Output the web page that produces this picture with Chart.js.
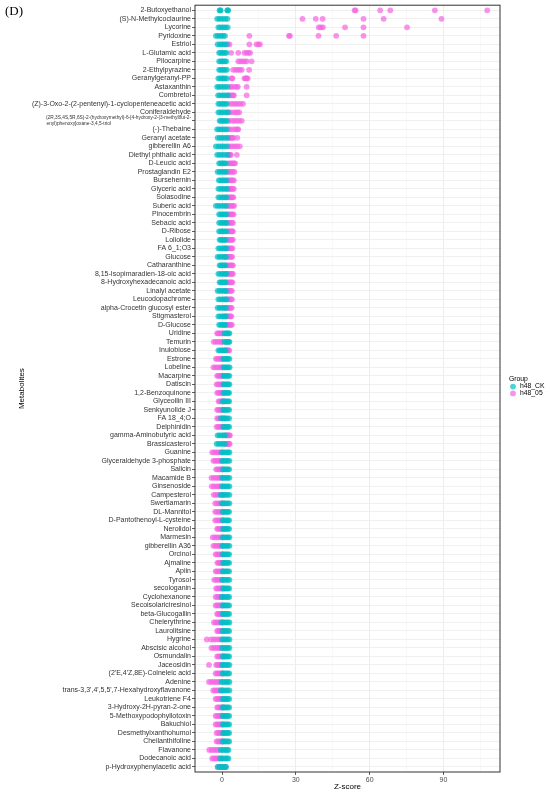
<!DOCTYPE html>
<html>
<head>
<meta charset="utf-8">
<script src="https://cdn.jsdelivr.net/npm/chart.js@4.4.0/dist/chart.umd.min.js"></script>
<style>
  body { margin: 0; background: #fff; }
</style>
</head>
<body>
<canvas id="myChart" width="550" height="794" style="width:550px;height:794px"></canvas>
<script>
var metabolites = [
  "2-Butoxyethanol", "(S)-N-Methylcoclaurine", "Lycorine", "Pyridoxine", "Estriol",
  "L-Glutamic acid", "Pilocarpine", "2-Ethylpyrazine", "Geranylgeranyl-PP", "Astaxanthin",
  "Combretol", "(Z)-3-Oxo-2-(2-pentenyl)-1-cyclopenteneacetic acid", "Coniferaldehyde",
  "(2R,3S,4S,5R,6S)-2-(hydroxymethyl)-6-[4-hydroxy-2-(3-methylbut-2-enyl)phenoxy]oxane-3,4,5-triol",
  "(-)-Thebaine", "Geranyl acetate", "gibberellin A6", "Diethyl phthalic acid", "D-Leucic acid",
  "Prostaglandin E2", "Bursehernin", "Glyceric acid", "Solasodine", "Suberic acid",
  "Pinocembrin", "Sebacic acid", "D-Ribose", "Loliolide", "FA 6_1;O3", "Glucose",
  "Catharanthine", "8,15-Isopimaradien-18-oic acid", "8-Hydroxyhexadecanoic acid",
  "Linalyl acetate", "Leucodopachrome", "alpha-Crocetin glucosyl ester", "Stigmasterol",
  "D-Glucose", "Uridine", "Temurin", "Inulobiose", "Estrone", "Lobeline", "Macarpine",
  "Datiscin", "1,2-Benzoquinone", "Glyceollin III", "Senkyunolide J", "FA 18_4;O",
  "Delphinidin", "gamma-Aminobutyric acid", "Brassicasterol", "Guanine",
  "Glyceraldehyde 3-phosphate", "Salicin", "Macamide B", "Ginsenoside", "Campesterol",
  "Swertiamarin", "DL-Mannitol", "D-Pantothenoyl-L-cysteine", "Nerolidol", "Marmesin",
  "gibberellin A36", "Orcinol", "Ajmaline", "Apiin", "Tyrosol", "secologanin",
  "Cyclohexanone", "Secoisolariciresinol", "beta-Glucogallin", "Chelerythrine",
  "Laurolitsine", "Hygrine", "Abscisic alcohol", "Osmundalin", "Jaceosidin",
  "(2'E,4'Z,8E)-Colneleic acid", "Adenine", "trans-3,3',4',5,5',7-Hexahydroxyflavanone",
  "Leukotriene F4", "3-Hydroxy-2H-pyran-2-one", "5-Methoxypodophyllotoxin", "Bakuchiol",
  "Desmethylxanthohumol", "Cheilanthifoline", "Flavanone", "Dodecanoic acid",
  "p-Hydroxyphenylacetic acid"
];

// six replicates per group, one row per metabolite
var ckScores = [
  [-1.0,-0.8,-0.6,2.1,2.3,2.5], [-2.0,-1.2,-0.5,0.5,1.4,2.2], [-1.5,-0.8,0.0,0.8,1.5,2.3],
  [-2.5,-1.8,-1.0,-0.3,0.5,1.2], [-1.8,-1.0,-0.3,0.4,1.1,1.7], [-1.2,-0.6,0.0,0.6,1.2,1.8],
  [-1.2,-0.5,0.0,0.6,1.2,1.7], [-1.2,-0.6,0.0,0.7,1.3,2.0], [-1.5,-0.8,0.0,0.6,1.2,2.0],
  [-2.0,-1.3,-0.5,0.5,1.3,2.2], [-1.6,-0.9,0.0,0.8,1.5,2.4], [-1.5,-0.8,0.0,0.7,1.4,2.0],
  [-1.5,-0.8,0.0,0.8,1.6,2.4], [-1.0,-0.5,0.2,0.8,1.4,2.0], [-2.0,-1.3,-0.5,0.3,1.0,1.8],
  [-1.8,-1.0,-0.2,0.6,1.4,2.2], [-2.5,-1.5,-0.7,0.2,1.0,2.0], [-2.0,-1.2,-0.4,0.4,1.2,2.3],
  [-1.2,-0.6,0.0,0.5,1.0,1.6], [-1.8,-1.1,-0.4,0.3,1.0,1.6], [-1.3,-0.7,0.0,0.6,1.2,1.8],
  [-1.5,-0.8,0.0,0.7,1.4,2.0], [-1.5,-0.8,0.0,0.6,1.2,1.8], [-2.5,-1.7,-0.9,0.0,0.8,1.6],
  [-1.2,-0.6,0.0,0.6,1.2,1.8], [-1.2,-0.6,0.0,0.6,1.2,1.8], [-1.2,-0.6,0.0,0.6,1.2,1.8],
  [-1.0,-0.5,0.0,0.5,1.0,1.5], [-1.5,-0.8,0.0,0.6,1.2,1.8], [-1.8,-1.1,-0.4,0.3,1.0,1.6],
  [-1.0,-0.5,0.0,0.5,1.0,1.4], [-1.5,-0.8,0.0,0.6,1.2,1.8], [-1.0,-0.5,0.0,0.5,1.0,1.5],
  [-1.8,-1.1,-0.4,0.3,1.0,1.6], [-1.5,-0.8,0.0,0.6,1.2,1.8], [-1.8,-1.1,-0.4,0.3,1.0,1.6],
  [-1.5,-0.8,0.0,0.6,1.2,1.6], [-1.2,-0.6,0.0,0.5,1.0,1.4], [1.0,1.4,1.8,2.2,2.6,3.0],
  [1.0,1.5,1.9,2.3,2.7,3.0], [-1.5,-0.9,-0.3,0.3,0.9,1.5], [0.5,1.0,1.5,2.0,2.5,3.0],
  [0.6,1.1,1.6,2.1,2.6,3.1], [0.5,1.0,1.5,2.0,2.5,3.0], [0.6,1.1,1.6,2.1,2.6,3.0],
  [0.6,1.1,1.6,2.1,2.5,2.9], [0.2,0.8,1.4,2.0,2.5,2.9], [0.4,0.9,1.4,1.9,2.4,2.9],
  [-0.5,0.3,1.0,1.6,2.2,2.9], [0.5,1.0,1.5,2.0,2.5,2.9], [-1.8,-1.1,-0.4,0.3,0.9,1.4],
  [-2.2,-1.5,-0.8,-0.1,0.6,1.3], [-0.2,0.5,1.2,1.9,2.5,3.0], [0.0,0.6,1.2,1.8,2.4,3.0],
  [0.4,0.9,1.4,1.9,2.4,2.9], [0.0,0.6,1.2,1.8,2.4,3.0], [0.0,0.6,1.2,1.8,2.4,3.0],
  [-0.6,0.2,0.9,1.6,2.3,3.0], [-0.2,0.5,1.2,1.8,2.4,3.0], [0.3,0.8,1.4,1.9,2.4,2.9],
  [0.3,0.8,1.4,1.9,2.4,2.9], [0.4,0.9,1.4,1.9,2.4,2.9], [0.2,0.8,1.4,2.0,2.5,3.0],
  [0.0,0.6,1.2,1.8,2.4,3.0], [0.3,0.8,1.3,1.8,2.4,2.9], [0.4,0.9,1.4,1.9,2.4,2.9],
  [0.3,0.8,1.3,1.8,2.4,2.9], [0.0,0.6,1.2,1.8,2.4,3.0], [0.4,0.9,1.4,1.9,2.4,2.9],
  [-0.2,0.5,1.2,1.8,2.4,2.9], [0.3,0.8,1.3,1.8,2.4,2.9], [0.3,0.8,1.3,1.8,2.4,2.9],
  [-0.3,0.4,1.1,1.8,2.4,3.0], [0.2,0.8,1.3,1.8,2.4,2.9], [0.0,0.6,1.2,1.8,2.4,3.0],
  [0.0,0.6,1.2,1.8,2.4,3.0], [0.3,0.8,1.3,1.8,2.4,2.9], [0.0,0.6,1.2,1.8,2.4,3.0],
  [0.2,0.7,1.3,1.8,2.4,2.9], [-0.3,0.4,1.1,1.8,2.4,3.0], [-0.5,0.2,0.9,1.6,2.3,3.0],
  [0.3,0.8,1.3,1.8,2.4,2.9], [0.2,0.8,1.3,1.8,2.4,2.9], [0.2,0.8,1.3,1.8,2.4,2.9],
  [0.3,0.8,1.3,1.8,2.4,2.9], [0.4,0.9,1.4,1.9,2.4,2.9], [0.3,0.8,1.3,1.8,2.4,2.9],
  [-0.5,0.2,0.9,1.5,2.1,2.6], [-0.8,0.0,0.7,1.4,2.0,2.6], [-1.8,-1.0,-0.3,0.4,1.0,1.6]
];

var trtScores = [
  [53.9,54.3,64.3,68.4,86.5,107.8], [32.7,38.1,40.9,57.5,65.7,89.2], [39.3,40.2,41.0,50.0,57.5,75.2],
  [11.1,27.2,27.6,39.2,46.4,57.5], [2.4,3.0,11.1,14.0,14.8,15.4], [3.7,6.6,9.1,10.0,10.8,11.4],
  [6.6,7.4,8.3,9.2,10.0,12.0], [4.5,5.5,6.4,7.2,8.0,11.0], [3.9,4.2,9.1,9.6,10.0,10.4],
  [3.3,4.0,5.0,6.0,6.4,10.0], [2.5,3.2,3.8,4.5,4.8,10.0], [3.5,4.5,5.5,6.5,7.5,8.5],
  [2.5,3.3,4.5,5.5,6.3,7.0], [2.8,4.0,5.0,6.0,7.0,8.0], [2.5,3.3,4.5,5.5,6.2,6.6],
  [2.6,3.3,3.8,4.2,4.6,6.2], [2.6,3.5,4.4,5.3,6.2,7.2], [2.2,2.6,3.0,3.3,3.6,6.0],
  [2.6,3.2,3.8,4.3,4.8,5.3], [2.0,2.6,3.2,3.8,4.4,5.0], [2.2,2.8,3.4,3.8,4.3,4.8],
  [2.5,3.0,3.5,3.9,4.3,4.8], [2.0,2.6,3.2,3.7,4.2,4.6], [2.0,2.6,3.2,3.8,4.4,4.9],
  [2.0,2.6,3.2,3.7,4.2,4.7], [1.8,2.4,3.0,3.5,4.0,4.4], [2.2,2.8,3.3,3.7,4.1,4.4],
  [1.8,2.4,3.0,3.5,4.0,4.4], [1.6,2.2,2.8,3.3,3.8,4.2], [1.5,2.1,2.7,3.2,3.7,4.1],
  [1.8,2.4,3.0,3.5,4.0,4.4], [1.8,2.4,3.0,3.5,4.0,4.4], [1.6,2.2,2.8,3.3,3.8,4.2],
  [1.5,2.0,2.6,3.1,3.6,4.0], [1.5,2.1,2.7,3.2,3.6,4.0], [1.4,2.0,2.6,3.1,3.5,3.9],
  [1.5,2.0,2.5,3.0,3.4,3.8], [1.8,2.3,2.8,3.2,3.6,4.0], [-2.0,-1.5,-1.0,-0.5,0.0,0.3],
  [-3.4,-2.6,-1.8,-1.0,-0.3,0.3], [1.2,1.6,2.0,2.3,2.6,2.9], [-2.5,-1.9,-1.3,-0.7,-0.2,0.3],
  [-3.5,-2.7,-1.9,-1.1,-0.4,0.2], [-2.0,-1.5,-1.0,-0.5,0.0,0.3], [-2.2,-1.6,-1.0,-0.5,0.0,0.4],
  [-2.0,-1.4,-0.8,-0.3,0.2,0.6], [-1.4,-0.9,-0.4,0.1,0.6,1.0], [-2.0,-1.5,-1.0,-0.5,0.0,0.4],
  [-2.0,-1.4,-0.8,-0.2,0.4,1.0], [-2.2,-1.6,-1.0,-0.5,0.0,0.4], [1.5,1.9,2.3,2.6,2.9,3.2],
  [1.4,1.8,2.2,2.5,2.8,3.1], [-4.0,-3.2,-2.4,-1.6,-0.9,-0.3], [-3.5,-2.8,-2.1,-1.4,-0.8,-0.2],
  [-2.4,-1.8,-1.2,-0.6,-0.1,0.3], [-4.3,-3.4,-2.5,-1.7,-1.0,-0.4], [-4.2,-3.3,-2.4,-1.6,-0.9,-0.3],
  [-3.4,-2.6,-1.8,-1.0,-0.2,0.6], [-2.8,-2.0,-1.2,-0.4,0.3,0.9], [-2.8,-2.1,-1.4,-0.8,-0.2,0.3],
  [-2.8,-2.1,-1.4,-0.8,-0.2,0.3], [-2.0,-1.5,-1.0,-0.5,0.0,0.4], [-3.8,-3.0,-2.2,-1.4,-0.6,0.2],
  [-3.5,-2.8,-2.1,-1.4,-0.7,-0.1], [-2.6,-2.0,-1.4,-0.8,-0.3,0.2], [-1.9,-1.4,-0.9,-0.4,0.0,0.4],
  [-2.6,-2.0,-1.4,-0.8,-0.3,0.2], [-3.2,-2.5,-1.8,-1.1,-0.4,0.3], [-2.4,-1.8,-1.2,-0.6,-0.1,0.3],
  [-2.6,-2.0,-1.4,-0.8,-0.2,0.4], [-2.6,-2.0,-1.4,-0.8,-0.3,0.2], [-2.0,-1.5,-1.0,-0.5,0.0,0.4],
  [-3.3,-2.6,-1.9,-1.2,-0.5,0.2], [-2.0,-1.5,-1.0,-0.6,-0.2,0.2], [-6.2,-4.4,-3.4,-2.4,-1.4,-0.5],
  [-4.3,-3.4,-2.5,-1.7,-1.0,-0.4], [-2.0,-1.4,-0.8,-0.2,0.3,0.8], [-5.3,-2.4,-1.8,-1.2,-0.6,-0.1],
  [-2.6,-2.0,-1.4,-0.8,-0.3,0.1], [-5.3,-4.4,-3.5,-2.6,-1.8,-1.0], [-3.6,-2.9,-2.2,-1.5,-0.8,-0.1],
  [-2.6,-2.0,-1.4,-0.8,-0.3,0.2], [-2.0,-1.4,-0.8,-0.3,0.2,0.7], [-2.6,-2.0,-1.4,-0.8,-0.3,0.2],
  [-2.6,-2.0,-1.4,-0.8,-0.3,0.2], [-2.2,-1.6,-1.0,-0.5,0.0,0.4], [-2.2,-1.6,-1.0,-0.5,-0.1,0.3],
  [-5.2,-4.3,-3.4,-2.6,-1.8,-1.0], [-4.0,-3.3,-2.6,-2.0,-1.3,-0.6], [-1.6,-0.9,-0.2,0.4,1.0,1.5]
];

var groups = ["h48_CK", "h48_05"];
var groupColors = ["rgba(0,191,196,0.7)", "rgba(245,100,227,0.7)"];
var majorTicks = [0, 30, 60, 90];
var minorTicks = [15, 45, 75, 105];

var labelFont = "'Liberation Sans', Arial, sans-serif";

toPoints = (rows) => {
  var pts = [];
  rows.forEach((vals, i) => {
    vals.forEach((v) => pts.push({ x: v, y: i }));
  });
  return pts;
};

// the very long name is split on two lines, both starting at the same x
var measureCtx = document.createElement("canvas").getContext("2d");
wrapName = (name) => {
  if (name.length < 60) return name;
  var cut = name.indexOf("enyl)");
  var a = name.slice(0, cut);
  var b = name.slice(cut);
  measureCtx.font = "4.8px " + labelFont;
  var gap = measureCtx.measureText(a).width - measureCtx.measureText(b).width;
  var space = measureCtx.measureText(" ").width;
  return [a, b + " ".repeat(Math.max(0, Math.round(gap / space)))];
};

var extras = {
  id: "extras",
  afterDraw(chart) {
    var ctx = chart.ctx;
    var a = chart.chartArea;
    ctx.save();
    // panel border
    ctx.strokeStyle = "#333";
    ctx.lineWidth = 1;
    ctx.strokeRect(a.left, a.top, a.right - a.left, a.bottom - a.top);
    // panel tag
    ctx.fillStyle = "#000";
    ctx.font = "13px 'Liberation Serif', serif";
    ctx.textBaseline = "top";
    ctx.fillText("(D)", 5, 5);
    // legend
    var lx = a.right + 9;
    var ly = (a.top + a.bottom) / 2;
    ctx.textBaseline = "middle";
    ctx.font = "6.8px " + labelFont;
    ctx.fillStyle = "#000";
    ctx.fillText("Group", lx, ly - 9);
    groups.forEach((g, i) => {
      var y = ly - 2 + i * 6.8;
      ctx.fillStyle = groupColors[i];
      ctx.beginPath();
      ctx.arc(lx + 4, y, 2.9, 0, Math.PI * 2);
      ctx.fill();
      ctx.fillStyle = "#000";
      ctx.fillText(g, lx + 11, y);
    });
    ctx.restore();
  },
};

createChart = () => {
  const ctx = document.getElementById("myChart").getContext("2d");
  new Chart(ctx, {
    type: "scatter",
    data: {
      datasets: [
        {
          label: groups[0],
          data: toPoints(ckScores),
          backgroundColor: groupColors[0],
          borderWidth: 0,
          pointRadius: 2.9,
        },
        {
          label: groups[1],
          data: toPoints(trtScores),
          backgroundColor: groupColors[1],
          borderWidth: 0,
          pointRadius: 2.9,
        },
      ],
    },
    options: {
      responsive: false,
      animation: false,
      layout: { padding: { top: 4, right: 50, left: 0, bottom: 0 } },
      plugins: { legend: { display: false }, tooltip: { enabled: false } },
      scales: {
        x: {
          type: "linear",
          min: -11,
          max: 113,
          afterBuildTicks: (s) => {
            s.ticks = majorTicks.concat(minorTicks).sort((p, q) => p - q).map((v) => ({ value: v }));
          },
          afterFit: (s) => {
            s.height = 22;
          },
          ticks: {
            autoSkip: false,
            maxRotation: 0,
            padding: 1,
            color: "#4d4d4d",
            font: { family: labelFont, size: 7 },
            callback: (v) => (majorTicks.indexOf(v) >= 0 ? String(v) : ""),
          },
          grid: {
            color: (c) => (c.tick && majorTicks.indexOf(c.tick.value) >= 0 ? "#e8e8e8" : "#f3f3f3"),
            lineWidth: (c) => (c.tick && majorTicks.indexOf(c.tick.value) >= 0 ? 0.8 : 0.5),
            tickColor: (c) => (c.tick && majorTicks.indexOf(c.tick.value) >= 0 ? "#333" : "rgba(0,0,0,0)"),
            tickLength: 3,
          },
          border: { display: false },
          title: {
            display: true,
            text: "Z-score",
            color: "#000",
            font: { family: labelFont, size: 8 },
            padding: { top: 0, bottom: 2 },
          },
        },
        y: {
          type: "linear",
          min: -0.6,
          max: metabolites.length - 0.4,
          reverse: true,
          afterBuildTicks: (s) => {
            s.ticks = metabolites.map((n, i) => ({ value: i }));
          },
          afterFit: (s) => {
            s.width = 195;
          },
          ticks: {
            autoSkip: false,
            padding: 1,
            color: "#333",
            font: (c) => ({ family: labelFont, size: metabolites[c.index] && metabolites[c.index].length > 60 ? 4.8 : 7 }),
            callback: (v) => wrapName(metabolites[v]),
          },
          grid: {
            color: "#ececec",
            lineWidth: 0.8,
            tickColor: "#333",
            tickLength: 3,
          },
          border: { display: false },
          title: {
            display: true,
            text: "Metabolites",
            color: "#000",
            font: { family: labelFont, size: 8 },
            padding: { top: 17, bottom: 0 },
          },
        },
      },
    },
    plugins: [extras],
  });
};

createChart();
</script>
</body>
</html>
